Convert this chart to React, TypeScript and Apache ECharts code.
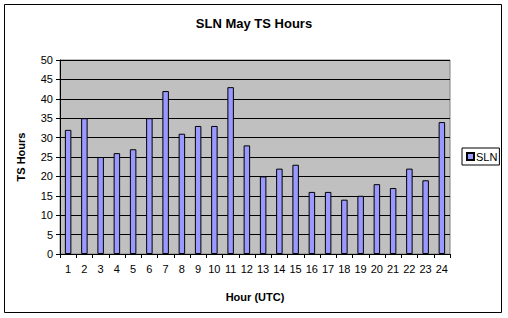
import React, { useEffect, useRef } from "react";
import * as echarts from "echarts";

const hours = ["1","2","3","4","5","6","7","8","9","10","11","12","13","14","15","16","17","18","19","20","21","22","23","24"];
const slnValues = [32, 35, 25, 26, 27, 35, 42, 31, 33, 33, 43, 28, 20, 22, 23, 16, 16, 14, 15, 18, 17, 22, 19, 34];
const seriesName = "SLN";
const titleText = "SLN May TS Hours";

export default function App() {
  const ref = useRef<HTMLDivElement>(null);
  useEffect(() => {
    document.body.style.margin = "0";
    const chart = echarts.init(ref.current!, null, { renderer: "svg" });
    const font = "Liberation Sans, Arial, sans-serif";
    chart.setOption({
      animation: false,
      backgroundColor: "#ffffff",
      textStyle: { fontFamily: font, color: "#000" },
      title: {
        text: titleText,
        left: "center",
        top: 12,
        textStyle: { fontFamily: font, fontSize: 13, fontWeight: "bold", color: "#000" },
      },
      graphic: [
        {
          type: "rect",
          shape: { x: 4.5, y: 4.5, width: 497, height: 308 },
          style: { fill: "none", stroke: "#000", lineWidth: 1 },
          silent: true,
        },
      ],
      legend: {
        orient: "vertical",
        left: 462,
        top: 148,
        data: [seriesName],
        borderColor: "#000",
        borderWidth: 1,
        padding: [3, 2, 3, 4],
        itemWidth: 7,
        itemHeight: 7,
        itemGap: 2,
        icon: "rect",
        textStyle: { fontFamily: font, fontSize: 11, color: "#000", padding: [0, 0, 0, -3] },
      },
      grid: {
        left: 60,
        top: 60,
        right: 58,
        bottom: 64,
        show: true,
        backgroundColor: "#C0C0C0",
        borderColor: "#808080",
        borderWidth: 1,
        containLabel: false,
      },
      xAxis: {
        type: "category",
        data: hours,
        boundaryGap: true,
        name: "Hour (UTC)",
        nameLocation: "middle",
        nameGap: 37,
        nameTextStyle: { fontFamily: font, fontSize: 11, fontWeight: "bold", color: "#000" },
        axisLine: { lineStyle: { color: "#000", width: 1 } },
        axisTick: { show: true, length: 4, lineStyle: { color: "#000" } },
        axisLabel: { fontFamily: font, fontSize: 11, color: "#000", margin: 9, interval: 0 },
      },
      yAxis: {
        type: "value",
        min: 0,
        max: 50,
        interval: 5,
        name: "TS Hours",
        nameLocation: "middle",
        nameRotate: 90,
        nameGap: 34,
        nameTextStyle: { fontFamily: font, fontSize: 11, fontWeight: "bold", color: "#000" },
        axisLine: { show: true, lineStyle: { color: "#000", width: 1 } },
        axisTick: { show: true, length: 4, lineStyle: { color: "#000" } },
        axisLabel: { fontFamily: font, fontSize: 11, color: "#000", margin: 7 },
        splitLine: { show: true, lineStyle: { color: "#000", width: 1 } },
      },
      series: [
        {
          name: seriesName,
          type: "bar",
          data: slnValues,
          barWidth: "40%",
          itemStyle: { color: "#9999FF", borderColor: "#000", borderWidth: 1 },
        },
      ],
    });
    return () => chart.dispose();
  }, []);
  return <div ref={ref} style={{ width: 508, height: 318 }} />;
}
